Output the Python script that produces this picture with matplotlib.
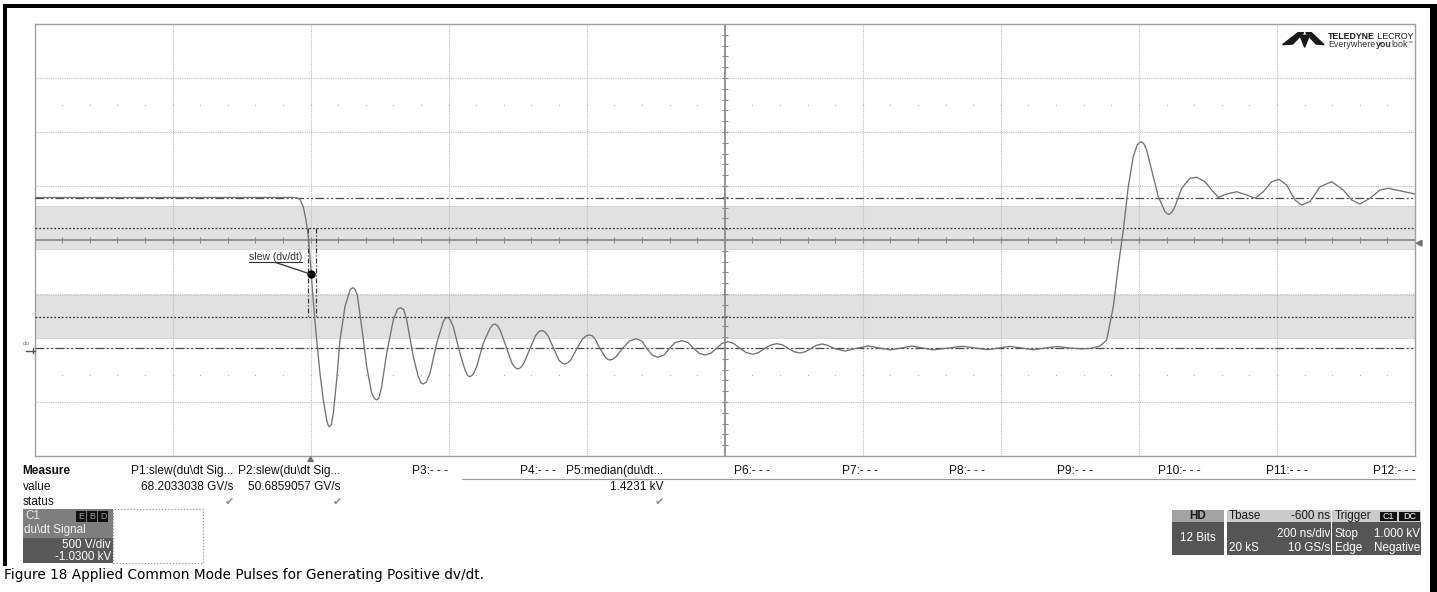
import matplotlib
matplotlib.use("Agg")
import matplotlib.pyplot as plt
from matplotlib.patches import Rectangle, Polygon
import numpy as np

plt.rcParams['font.family'] = ['Liberation Sans', 'DejaVu Sans']

W, H = 1437, 592

# ---------------- data ----------------
time_ns = [-400, -30, -25, -20, -15.4, -10.6, -6.7, -3.3, -0.9, 1.6, 5.3, 8.8, 13.6, 18.4, 23.3,
           25.4, 27.1, 29.8, 32.9, 37.8, 42.6, 49.8, 57.1, 59.5, 61.8, 64.5, 67.6, 74.0, 81.3,
           88.5, 92.5, 95.7, 99.0, 103.0, 110.2, 119.8, 126.0, 130.5, 135.0, 139.2, 148.8, 156.0,
           160.0, 163.3, 167.5, 173.0, 182.7, 192.2, 195.2, 198.0, 202.0, 206.7, 216.4, 223.7,
           227.5, 230.9, 235.5, 240.6, 250.2, 259.9, 263.5, 267.1, 271, 275, 284, 292, 296.5,
           300.4, 304.5, 309, 318, 326, 331, 335, 339, 344, 352, 360, 364.5, 368.5, 372.5, 377,
           386, 394, 399.5, 404, 408, 412, 419, 427, 430.5, 433.7, 437.5, 442, 452, 462, 471.4,
           480, 487, 495, 503.3, 512, 520, 528, 538, 547, 555, 563, 571.4, 580, 588, 596, 604.7,
           613, 622, 631, 640.9, 649, 658, 667, 675.7, 684, 692, 700, 709, 717, 725, 733, 741,
           749, 758, 774, 791, 807.5, 824, 840, 856, 871, 887, 902, 924, 945, 963, 981, 997,
           1013, 1030, 1046, 1064, 1083, 1100, 1117, 1130, 1143.6, 1153.3, 1162.9, 1170.1,
           1177.4, 1184.6, 1191.8, 1197.6, 1201.0, 1204.0, 1207.5, 1211.2, 1218.5, 1228.1,
           1237.8, 1241.0, 1244.0, 1247.5, 1252.2, 1261.9, 1274.0, 1283.7, 1295.7, 1305.4,
           1315.0, 1327.2, 1341.6, 1356.1, 1368.1, 1380.2, 1392.3, 1402.9, 1414.1, 1426.1,
           1435.8, 1447.8, 1462.3, 1479.3, 1496.1, 1508.3, 1520.3, 1534.7, 1549.2, 1561.3,
           1578.2, 1600]
volts = [1423, 1423, 1424, 1420, 1407, 1338, 1215, 1061, 875, 660, 351, 104, -204, -451, -637,
         -684, -699, -684, -575, -266, 104, 412, 567, 582, 588, 572, 521, 227, -143,
         -389, -438, -451, -433, -328, -19, 289, 390, 403, 385, 289, -50, -236,
         -292, -303, -287, -204, 74, 274, 305, 314, 296, 227, -19, -174,
         -225, -236, -215, -143, 74, 212, 243, 252, 235, 190, 27, -115, -152,
         -165, -150, -110, 27, 145, 183, 192, 182, 143, 27, -85, -110, -118, -108, -80,
         27, 115, 143, 150, 143, 115, 27, -55, -76, -81, -75, -55, 27, 95, 116,
         95, 27, -35, -56, -35, 27, 80, 98, 80, 27, -18, -35, -18, 27, 72, 88,
         72, 27, -12, -28, -12, 27, 58, 70, 58, 27, -4, -16, -4, 27, 55, 67,
         55, 27, 2, 27, 49, 30, 12, 30, 48, 30, 12, 30, 46, 30, 14, 30,
         45, 30, 14, 30, 44, 30, 22, 27, 48, 104, 412, 783,
         1123, 1523, 1801, 1910, 1932, 1940, 1918, 1863, 1678, 1431,
         1292, 1273, 1268, 1285, 1338, 1509, 1601, 1611, 1570, 1493,
         1425, 1456, 1477, 1447, 1416, 1477, 1570, 1592, 1539, 1400,
         1354, 1385, 1523, 1570, 1493, 1400, 1363, 1416, 1493, 1509,
         1486, 1456]

top_level_v = 1423
base_level_v = 27
upper_thresh_v = 1144
lower_thresh_v = 317
upper_band_v = (949, 1345)
lower_band_v = (125, 518)
slew_marker_t, slew_marker_v = 1.0, 712
slew_cursor_t = [-4.2, 7.4]

volts_per_div = 500
offset_v = 1030          # centre of screen
ns_per_div = 200
t_left = -400

measure_labels = ["Measure", "value", "status"]
measure_headers = ["P1:slew(du\\dt Sig...", "P2:slew(du\\dt Sig...", "P3:- - -", "P4:- - -",
                   "P5:median(du\\dt...", "P6:- - -", "P7:- - -", "P8:- - -", "P9:- - -",
                   "P10:- - -", "P11:- - -", "P12:- - -"]
measure_values = ["68.2033038 GV/s", "50.6859057 GV/s", "", "", "1.4231 kV", "", "", "", "", "", "", ""]
measure_status = [True, True, False, False, True, False, False, False, False, False, False, False]

caption = "Figure 18 Applied Common Mode Pulses for Generating Positive dv/dt."

# ---------------- figure ----------------
fig = plt.figure(figsize=(W / 100, H / 100), dpi=100)
fig.patch.set_facecolor('white')
renderer = fig.canvas.get_renderer()


def fx(x):
    return x / W


def fy(y):
    return 1 - y / H


def rect(x0, y0, x1, y1, fc, ec='none', lw=0, ls='solid', z=1, fill=True):
    r = Rectangle((fx(x0), fy(y1)), (x1 - x0) / W, (y1 - y0) / H, transform=fig.transFigure,
                  facecolor=fc if fill else 'none', edgecolor=ec, linewidth=lw, linestyle=ls,
                  zorder=z, fill=fill)
    fig.add_artist(r)
    return r


def T(x, y, s, ha='left', size=8.6, color='#111111', weight='normal', family=None, z=5):
    kw = {}
    if family is not None:
        kw['family'] = family
    return fig.text(fx(x), fy(y), s, ha=ha, va='center', fontsize=size, color=color,
                    fontweight=weight, zorder=z, **kw)


L, R, TOP, BOT = 34.5, 1415, 24, 456
ax = fig.add_axes([fx(L), fy(BOT), (R - L) / W, (BOT - TOP) / H])
x0, x1 = t_left, t_left + 10 * ns_per_div
y0, y1 = offset_v - 4 * volts_per_div, offset_v + 4 * volts_per_div
ax.set_xlim(x0, x1)
ax.set_ylim(y0, y1)
ax.set_xticks([])
ax.set_yticks([])
for sp in ax.spines.values():
    sp.set_color('#a0a0a0')
    sp.set_linewidth(1.0)

# bands
ax.axhspan(*upper_band_v, color='#e1e1e1', zorder=0.5, lw=0)
ax.axhspan(*lower_band_v, color='#e1e1e1', zorder=0.5, lw=0)
for v in list(upper_band_v) + list(lower_band_v):
    ax.axhline(v, color='#d2d2d2', lw=0.6, zorder=0.6)

# graticule
xc = t_left + 5 * ns_per_div
for k in range(1, 10):
    if k == 5:
        continue
    ax.axvline(t_left + k * ns_per_div, color='#bcbcbc', lw=0.8, ls=(0, (1, 1)), zorder=1)
for k in range(-3, 4):
    if k == 0:
        continue
    ax.axhline(offset_v + k * volts_per_div, color='#bcbcbc', lw=0.8, ls=(0, (1, 1)), zorder=1)
ax.axvline(xc, color='#8c8c8c', lw=1.3, zorder=1.5)
ax.axhline(offset_v, color='#8c8c8c', lw=1.3, zorder=1.5)
minor_t = np.arange(x0 + ns_per_div / 5, x1, ns_per_div / 5)
minor_v = np.arange(y0 + volts_per_div / 5, y1, volts_per_div / 5)
ax.plot(minor_t, np.full(minor_t.shape, offset_v), ls='none', marker='|', ms=4, mew=0.8,
        color='#8c8c8c', zorder=1.6)
ax.plot(np.full(minor_v.shape, xc), minor_v, ls='none', marker='_', ms=4, mew=0.8,
        color='#8c8c8c', zorder=1.6)
for v in (offset_v - 2.5 * volts_per_div, offset_v + 2.5 * volts_per_div):
    ax.plot(minor_t, np.full(minor_t.shape, v), ls='none', marker='s', ms=0.9, mew=0,
            color='#b4b4b4', zorder=1.6)

# reference levels
dashdot = (0, (7, 2, 1.5, 2, 1.5, 2))
ax.axhline(top_level_v, color='#4a4a4a', lw=0.9, ls=dashdot, zorder=3)
ax.axhline(base_level_v, color='#4a4a4a', lw=0.9, ls=dashdot, zorder=3)
ax.axhline(upper_thresh_v, color='#3a3a3a', lw=0.9, ls=(0, (1.5, 1.5)), zorder=3)
ax.axhline(lower_thresh_v, color='#3a3a3a', lw=0.9, ls=(0, (1.5, 1.5)), zorder=3)

# signal
ax.plot(time_ns, volts, color='#737373', lw=0.95, zorder=5, solid_joinstyle='round',
        antialiased=True)

# slew cursors and marker
for t in slew_cursor_t:
    ax.plot([t, t], [upper_thresh_v, lower_thresh_v], color='#3a3a3a', lw=0.9,
            ls=(0, (4, 1.5, 1, 1.5)), zorder=4)
ax.plot([slew_marker_t], [slew_marker_v], marker='o', ms=5, color='black', zorder=6)
lab_t, lab_v = -89, 873
ax.text(lab_t, lab_v, "slew (dv/dt)", ha='left', va='center', fontsize=7.5, color='#333333', zorder=6)
ax.plot([lab_t, -12.5], [829, 829], color='#333333', lw=0.8, zorder=6)
ax.plot([-50, slew_marker_t], [820, slew_marker_v], color='#333333', lw=0.9, zorder=6)

# markers outside grid
fig.add_artist(Polygon([(fx(1416.5), fy(243.2)), (fx(1422), fy(240.3)), (fx(1422), fy(246.1))],
                       closed=True, transform=fig.transFigure, color='#707070'))
fig.add_artist(Polygon([(fx(307.8), fy(461.5)), (fx(313.4), fy(461.5)), (fx(310.6), fy(457))],
                       closed=True, transform=fig.transFigure, color='#707070'))
T(22.7, 343.5, "du", size=4.5, color='#777777')
fig.add_artist(plt.Line2D([fx(26), fx(34.5)], [fy(350.5), fy(350.5)], transform=fig.transFigure,
                          color='#555555', lw=1))
fig.add_artist(plt.Line2D([fx(32.5), fx(32.5)], [fy(348.3), fy(352.6)], transform=fig.transFigure,
                          color='#555555', lw=1))

# logo
def logo_xy(pts):
    return [(fx(1270 + X / 3), fy(20 + Y / 3)) for X, Y in pts]


for pts in ([(38, 74), (84, 38), (101, 38), (68, 72)],
            [(162, 74), (124, 38), (107, 38), (138, 72)],
            [(90, 46), (118, 46), (104, 82)]):
    fig.add_artist(Polygon(logo_xy(pts), closed=True, transform=fig.transFigure, color='#1a1a1a'))


def seq_text(x, y, pieces, size, color='#1a1a1a'):
    cur = x
    for s, weight, sz, dy in pieces:
        t = T(cur, y + dy, s, size=sz if sz else size, color=color, weight=weight)
        cur += t.get_window_extent(renderer).width


seq_text(1328.3, 36.6, [("TELEDYNE", 'bold', None, 0), (" LECROY", 'normal', None, 0)], 6.3)
seq_text(1328.3, 44.2, [("Everywhere", 'normal', None, 0), ("you", 'bold', None, 0),
                        ("look", 'normal', None, 0), ("\u2122", 'normal', 3.5, -2.5)], 6.4,
         color='#333333')

# ---------------- measurement table ----------------
row_y = [471, 487.3, 501.7]
for lab, yy in zip(measure_labels, row_y):
    T(22.7, yy, lab, weight='bold' if lab == "Measure" else 'normal')
col_right = [233 + 107.5 * i for i in range(len(measure_headers))]
for xr, hdr, val, ok in zip(col_right, measure_headers, measure_values, measure_status):
    T(xr, row_y[0], hdr, ha='right')
    if val:
        T(xr, row_y[1], val, ha='right')
    if ok:
        T(xr - 3.5, row_y[2] + 0.5, "\u2714", ha='center', size=8, color='#8a8a8a',
          family='DejaVu Sans')
fig.add_artist(plt.Line2D([fx(462), fx(1415)], [fy(479), fy(479)], transform=fig.transFigure,
                          color='#9a9a9a', lw=0.8))

# C1 channel descriptor
rect(22.7, 509.3, 113.3, 537.7, '#7e7e7e')
rect(22.7, 537.7, 113.3, 562.5, '#595959')
T(25, 516.3, "C1", size=8.4, color='#e8e8e8')
for (bx0, bx1), ch in zip([(76, 86), (87.3, 97), (98.3, 108.3)], "EBD"):
    rect(bx0, 511, bx1, 521.5, '#111111')
    T((bx0 + bx1) / 2, 516.3, ch, ha='center', size=6.3, color='#9a9a9a')
T(24, 530, "du\\dt Signal", size=8.4, color='#f2f2f2')
T(111, 545.5, "500 V/div", ha='right', size=8.4, color='white')
T(111, 556.5, "-1.0300 kV", ha='right', size=8.4, color='white')
rect(113.3, 509.3, 203.3, 562.5, 'none', ec='#9a9a9a', lw=0.9, ls=(0, (1, 1.5)), fill=False)

# timebase / trigger descriptors
rect(1171.7, 510, 1224.3, 522.3, '#a3a3a3')
rect(1171.7, 522.3, 1224.3, 555, '#555555')
T(1198, 516.2, "HD", ha='center', size=8.4, color='#1a1a1a', weight='bold')
T(1198, 538.3, "12 Bits", ha='center', size=8.4, color='white')
rect(1226.7, 510, 1331, 522.3, '#cbcbcb')
rect(1226.7, 522.3, 1331, 555, '#555555')
T(1229, 516.2, "Tbase", size=8.4, color='#1a1a1a')
T(1330, 516.2, "-600 ns", ha='right', size=8.4, color='#1a1a1a')
T(1330, 534.3, "200 ns/div", ha='right', size=8.4, color='white')
T(1229, 548.3, "20 kS", size=8.4, color='white')
T(1330, 548.3, "10 GS/s", ha='right', size=8.4, color='white')
rect(1332.3, 510, 1421, 522.3, '#cbcbcb')
rect(1332.3, 522.3, 1421, 555, '#555555')
T(1334.7, 516.2, "Trigger", size=8.4, color='#1a1a1a')
rect(1380, 511.8, 1397.3, 521, '#111111')
T(1388.6, 516.4, "C1", ha='center', size=6.5, color='white')
rect(1399.3, 511.8, 1420, 521, '#111111')
T(1409.6, 516.4, "DC", ha='center', size=6.5, color='white')
T(1334.7, 534.3, "Stop", size=8.4, color='white')
T(1420, 534.3, "1.000 kV", ha='right', size=8.4, color='white')
T(1334.7, 548.3, "Edge", size=8.4, color='white')
T(1420, 548.3, "Negative", ha='right', size=8.4, color='white')

# outer frame
rect(2.5, 4, 6.5, 566, 'black', z=10)
rect(2.5, 4, 1437, 7.5, 'black', z=10)
rect(1429.5, 4, 1437, 592, 'black', z=10)

# caption
cap = T(4, 575.5, caption, size=10, color='black', family='DejaVu Sans')
w = cap.get_window_extent(renderer).width
cap.set_fontsize(10 * 479 / w)

fig.savefig("out.png", dpi=100, facecolor='white')
